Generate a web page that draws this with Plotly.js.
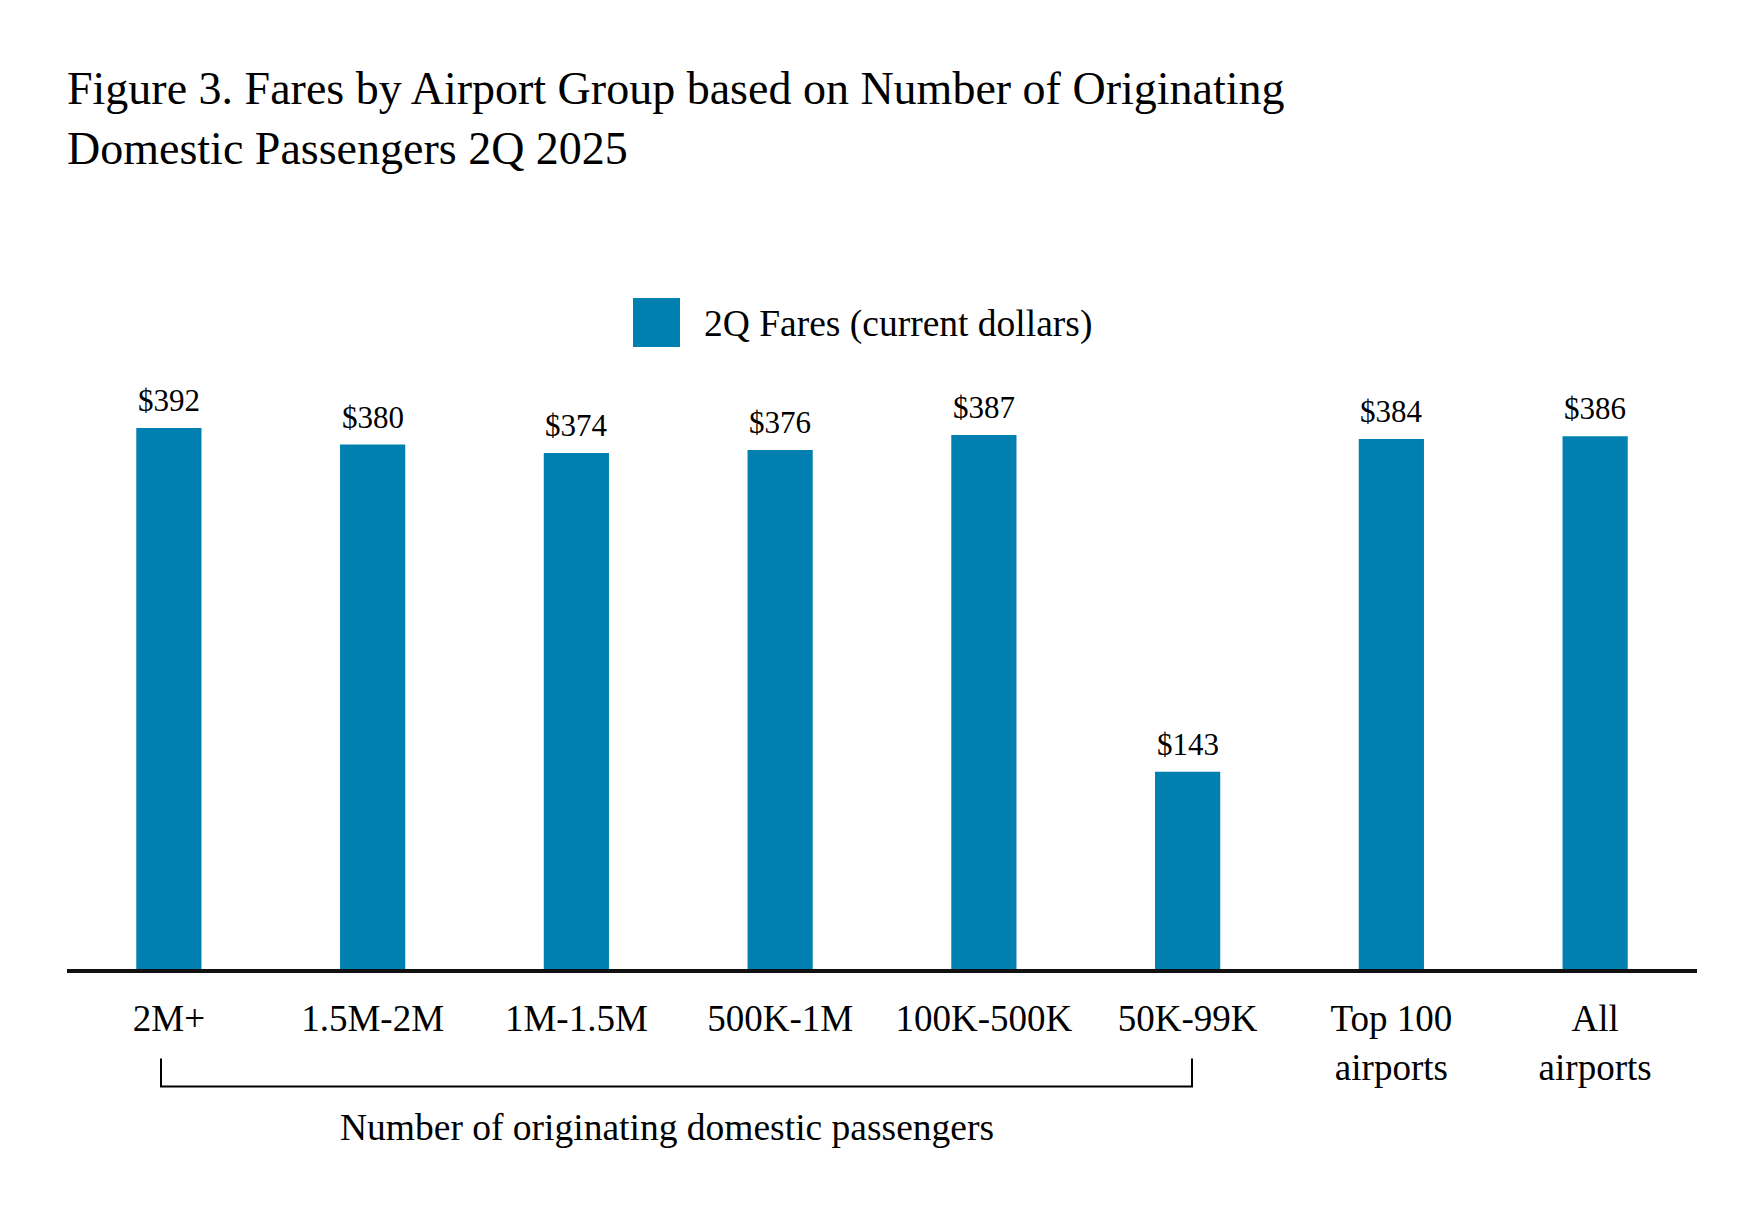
<!DOCTYPE html>
<html>
<head>
<meta charset="utf-8">
<script src="https://cdn.plot.ly/plotly-3.0.1.min.js"></script>
<style>html,body{margin:0;padding:0;background:#fff;}#chart{width:1763px;height:1214px;}</style>
</head>
<body>
<div id="chart"></div>
<script>
var categories = ["2M+", "1.5M-2M", "1M-1.5M", "500K-1M", "100K-500K", "50K-99K", "Top 100<br>airports", "All<br>airports"];
var fares = [392, 380, 374, 376, 387, 143, 384, 386];
var seriesName = "2Q Fares (current dollars)";
var titleText = "Figure 3. Fares by Airport Group based on Number of Originating<br>Domestic Passengers 2Q 2025";
var groupLabel = "Number of originating domestic passengers";

var FONT = "Liberation Serif, Times New Roman, serif";
var BAR = "#0080b0";

var W = 1763, H = 1214;
var mL = 67, mR = 66, mT = 417, mB = 244.5;
var pw = W - mL - mR, ph = H - mT - mB;
function px2x(px){ return (px - mL) / pw; }
function py2y(py){ return (H - mB - py) / ph; }

var labelAnnotations = fares.map(function(v, i){
  return {
    x: i, y: v, xref: "x", yref: "y",
    text: "$" + v, showarrow: false,
    yanchor: "bottom", yshift: 8,
    font: {family: FONT, size: 31, color: "#000"}
  };
});

var trace = {
  type: "bar",
  x: categories.map(function(c, i){ return i; }),
  y: fares,
  name: seriesName,
  marker: {color: BAR, line: {width: 0}},
  hoverinfo: "none"
};

var layout = {
  width: W, height: H,
  margin: {l: mL, r: mR, t: mT, b: mB, pad: 0},
  paper_bgcolor: "#fff", plot_bgcolor: "#fff",
  font: {family: FONT, color: "#000"},
  title: {
    text: titleText,
    font: {family: FONT, size: 46, color: "#000"},
    x: 67 / W, xref: "container", xanchor: "left",
    y: 1 - 104 / H, yref: "container", yanchor: "top"
  },
  showlegend: true,
  legend: {
    orientation: "h",
    x: px2x(620), xanchor: "left",
    y: py2y(290), yanchor: "top",
    font: {family: FONT, size: 37.5, color: "#000"},
    itemwidth: 74,
    bgcolor: "rgba(0,0,0,0)"
  },
  bargap: 0.68,
  xaxis: {
    type: "linear",
    range: [-0.5, 7.5],
    tickmode: "array",
    tickvals: categories.map(function(c, i){ return i; }),
    ticktext: categories,
    showline: true, linecolor: "#111", linewidth: 4,
    ticks: "", showgrid: false, zeroline: false,
    tickfont: {family: FONT, size: 37, color: "#000"},
    ticklabelstandoff: 14,
    fixedrange: true
  },
  yaxis: {
    range: [0, 400],
    visible: false, showgrid: false, zeroline: false,
    fixedrange: true
  },
  shapes: [
    {
      type: "rect", xref: "paper", yref: "paper",
      x0: px2x(633), x1: px2x(680), y0: py2y(347), y1: py2y(298),
      fillcolor: BAR, line: {width: 0}, layer: "below"
    },
    {
      type: "path", xref: "paper", yref: "paper",
      path: "M " + px2x(161) + " " + py2y(1059) + " L " + px2x(161) + " " + py2y(1087) +
            " L " + px2x(1192) + " " + py2y(1087) + " L " + px2x(1192) + " " + py2y(1059),
      line: {color: "#000", width: 2}
    }
  ],
  annotations: labelAnnotations.concat([
    {
      x: px2x(667), y: py2y(1106), xref: "paper", yref: "paper",
      text: groupLabel, showarrow: false, xanchor: "center", yanchor: "top",
      font: {family: FONT, size: 37.5, color: "#000"}
    }
  ])
};

Plotly.newPlot("chart", [trace], layout, {displayModeBar: false, staticPlot: true});
</script>
</body>
</html>
